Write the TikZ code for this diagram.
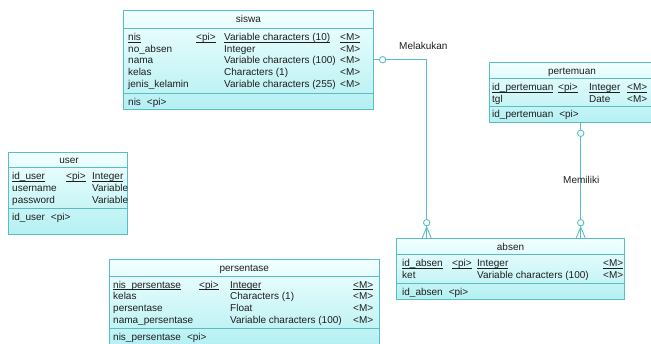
\documentclass[tikz,border=0pt]{standalone}
\usepackage{fontspec}
\setmainfont{Liberation Sans}
\usetikzlibrary{calc}
\definecolor{erline}{HTML}{58BEC2}
\definecolor{ertop}{HTML}{F2FFFF}
\definecolor{erbot}{HTML}{B4F0F2}
\definecolor{ertext}{HTML}{1E1E1E}
\tikzset{
  entbox/.style={draw=erline, line width=0.9pt, top color=ertop, bottom color=erbot,
    inner sep=0pt, outer sep=0pt, anchor=north west},
  sepline/.style={draw=erline, line width=0.9pt},
  txt/.style={font=\fontsize{10}{12}\selectfont, text=ertext, inner sep=0pt,
    anchor=base west, yshift=-3.6pt},
  ttl/.style={txt, anchor=base},
  rel/.style={draw=erline, line width=0.9pt},
  card/.style={draw=erline, line width=0.9pt, fill=white, circle,
    inner sep=0pt, minimum size=6.4pt},
}
\newcommand{\keygap}{\hspace{6pt}}
% identifier underline, set just below the baseline
\newcommand{\idul}[1]{\underline{\smash{#1}}}
\begin{document}
\begin{tikzpicture}[x=1pt,y=-1pt]
\useasboundingbox (0,0) rectangle (651,343);

% ---------- siswa ----------
\node[entbox, minimum width=250pt, minimum height=99.5pt] (siswa) at (123.5,10) {};
\draw[sepline] (123.5,28.3) -- (373.5,28.3);
\draw[sepline] (123.5,93.5) -- (373.5,93.5);
\node[ttl] (siswa-t) at (248.5,19.2) {siswa};
\node[txt] (siswa-n1) at (128,36.7) {\idul{nis}};
\node[txt] (siswa-p1) at (196,36.7) {\idul{<pi>}};
\node[txt] (siswa-d1) at (224,36.7) {\idul{Variable characters (10)}};
\node[txt] (siswa-m1) at (340,36.7) {\idul{<M>}};
\node[txt] (siswa-n2) at (128,48.5) {no\_absen};
\node[txt] (siswa-d2) at (224,48.5) {Integer};
\node[txt] (siswa-m2) at (340,48.5) {<M>};
\node[txt] (siswa-n3) at (128,60.3) {nama};
\node[txt] (siswa-d3) at (224,60.3) {Variable characters (100)};
\node[txt] (siswa-m3) at (340,60.3) {<M>};
\node[txt] (siswa-n4) at (128,72.1) {kelas};
\node[txt] (siswa-d4) at (224,72.1) {Characters (1)};
\node[txt] (siswa-m4) at (340,72.1) {<M>};
\node[txt] (siswa-n5) at (128,83.9) {jenis\_kelamin};
\node[txt] (siswa-d5) at (224,83.9) {Variable characters (255)};
\node[txt] (siswa-m5) at (340,83.9) {<M>};
\node[txt] (siswa-k) at (128,101.5) {nis\keygap<pi>};

% ---------- pertemuan ----------
\node[entbox, minimum width=166pt, minimum height=60.5pt] (pertemuan) at (489,62) {};
\draw[sepline] (489,78.5) -- (655,78.5);
\draw[sepline] (489,106) -- (655,106);
\node[ttl] (pert-t) at (572,70.5) {pertemuan};
\node[txt] (pert-n1) at (492,87) {\idul{id\_pertemuan}};
\node[txt] (pert-p1) at (558,87) {\idul{<pi>}};
\node[txt] (pert-d1) at (589,87) {\idul{Integer}};
\node[txt] (pert-m1) at (627,87) {\idul{<M>}};
\node[txt] (pert-n2) at (492,98.5) {tgl};
\node[txt] (pert-d2) at (589,98.5) {Date};
\node[txt] (pert-m2) at (627,98.5) {<M>};
\node[txt] (pert-k) at (492,114) {id\_pertemuan\keygap<pi>};

% ---------- user ----------
\node[entbox, minimum width=119pt, minimum height=82.5pt] (user) at (8.5,152) {};
\draw[sepline] (8.5,167.5) -- (127.5,167.5);
\draw[sepline] (8.5,208.5) -- (127.5,208.5);
\begin{scope}
  \clip (8.5,152) rectangle (127,234.5);
  \node[ttl] (user-t) at (69,159.5) {user};
  \node[txt] (user-n1) at (12,176) {\idul{id\_user}};
  \node[txt] (user-p1) at (66,176) {\idul{<pi>}};
  \node[txt] (user-d1) at (92,176) {\idul{Integer}};
  \node[txt] (user-n2) at (12,187.8) {username};
  \node[txt] (user-d2) at (92,187.8) {Variable};
  \node[txt] (user-n3) at (12,199.6) {password};
  \node[txt] (user-d3) at (92,199.6) {Variable};
  \node[txt] (user-k) at (12,217) {id\_user\keygap<pi>};
\end{scope}

% ---------- persentase ----------
\node[entbox, minimum width=269.5pt, minimum height=86pt] (persentase) at (109.5,259.5) {};
\draw[sepline] (109.5,276) -- (379,276);
\draw[sepline] (109.5,328.5) -- (379,328.5);
\node[ttl] (pers-t) at (244.3,268) {persentase};
\node[txt] (pers-n1) at (113,284.5) {\idul{nis\_persentase}};
\node[txt] (pers-p1) at (199,284.5) {\idul{<pi>}};
\node[txt] (pers-d1) at (230,284.5) {\idul{Integer}};
\node[txt] (pers-m1) at (353,284.5) {\idul{<M>}};
\node[txt] (pers-n2) at (113,296.3) {kelas};
\node[txt] (pers-d2) at (230,296.3) {Characters (1)};
\node[txt] (pers-m2) at (353,296.3) {<M>};
\node[txt] (pers-n3) at (113,308.1) {persentase};
\node[txt] (pers-d3) at (230,308.1) {Float};
\node[txt] (pers-m3) at (353,308.1) {<M>};
\node[txt] (pers-n4) at (113,319.9) {nama\_persentase};
\node[txt] (pers-d4) at (230,319.9) {Variable characters (100)};
\node[txt] (pers-m4) at (353,319.9) {<M>};
\node[txt] (pers-k) at (113,336.7) {nis\_persentase\keygap<pi>};

% ---------- absen ----------
\node[entbox, minimum width=228pt, minimum height=60.5pt] (absen) at (396.5,238.5) {};
\draw[sepline] (396.5,254.5) -- (624.5,254.5);
\draw[sepline] (396.5,283.3) -- (624.5,283.3);
\node[ttl] (absen-t) at (510.5,246.5) {absen};
\node[txt] (absen-n1) at (402,263) {\idul{id\_absen}};
\node[txt] (absen-p1) at (452,263) {\idul{<pi>}};
\node[txt] (absen-d1) at (477,263) {\idul{Integer}};
\node[txt] (absen-m1) at (603,263) {\idul{<M>}};
\node[txt] (absen-n2) at (402,274.8) {ket};
\node[txt] (absen-d2) at (477,274.8) {Variable characters (100)};
\node[txt] (absen-m2) at (603,274.8) {<M>};
\node[txt] (absen-k) at (402,291.5) {id\_absen\keygap<pi>};

% ---------- relationships ----------
\coordinate (melx) at (426.7,0);
\coordinate (memx) at (580.7,0);

% Melakukan: siswa 0..1 -- 0..n absen
\draw[rel] (siswa.east) -- (siswa.east -| melx) -- (absen.north -| melx);
\draw[rel] ($(absen.north -| melx)+(0,-11.5)$) coordinate (melapex)
  -- ++(-4.7,11.5) (melapex) -- ++(4.7,11.5);
\node[card] (mel-c1) at ($(siswa.east)+(9.2,0)$) {};
\node[card] (mel-c2) at ($(absen.north -| melx)+(0,-15.8)$) {};
\node[txt] (mel-l) at (399,46) {Melakukan};

% Memiliki: pertemuan 0..1 -- 0..n absen
\draw[rel] (pertemuan.south -| memx) -- (absen.north -| memx);
\draw[rel] ($(absen.north -| memx)+(0,-11.5)$) coordinate (memapex)
  -- ++(-4.7,11.5) (memapex) -- ++(4.7,11.5);
\node[card] (mem-c1) at ($(pertemuan.south -| memx)+(0,10.8)$) {};
\node[card] (mem-c2) at ($(absen.north -| memx)+(0,-15.8)$) {};
\node[txt] (mem-l) at (563,180) {Memiliki};
\end{tikzpicture}
\end{document}
